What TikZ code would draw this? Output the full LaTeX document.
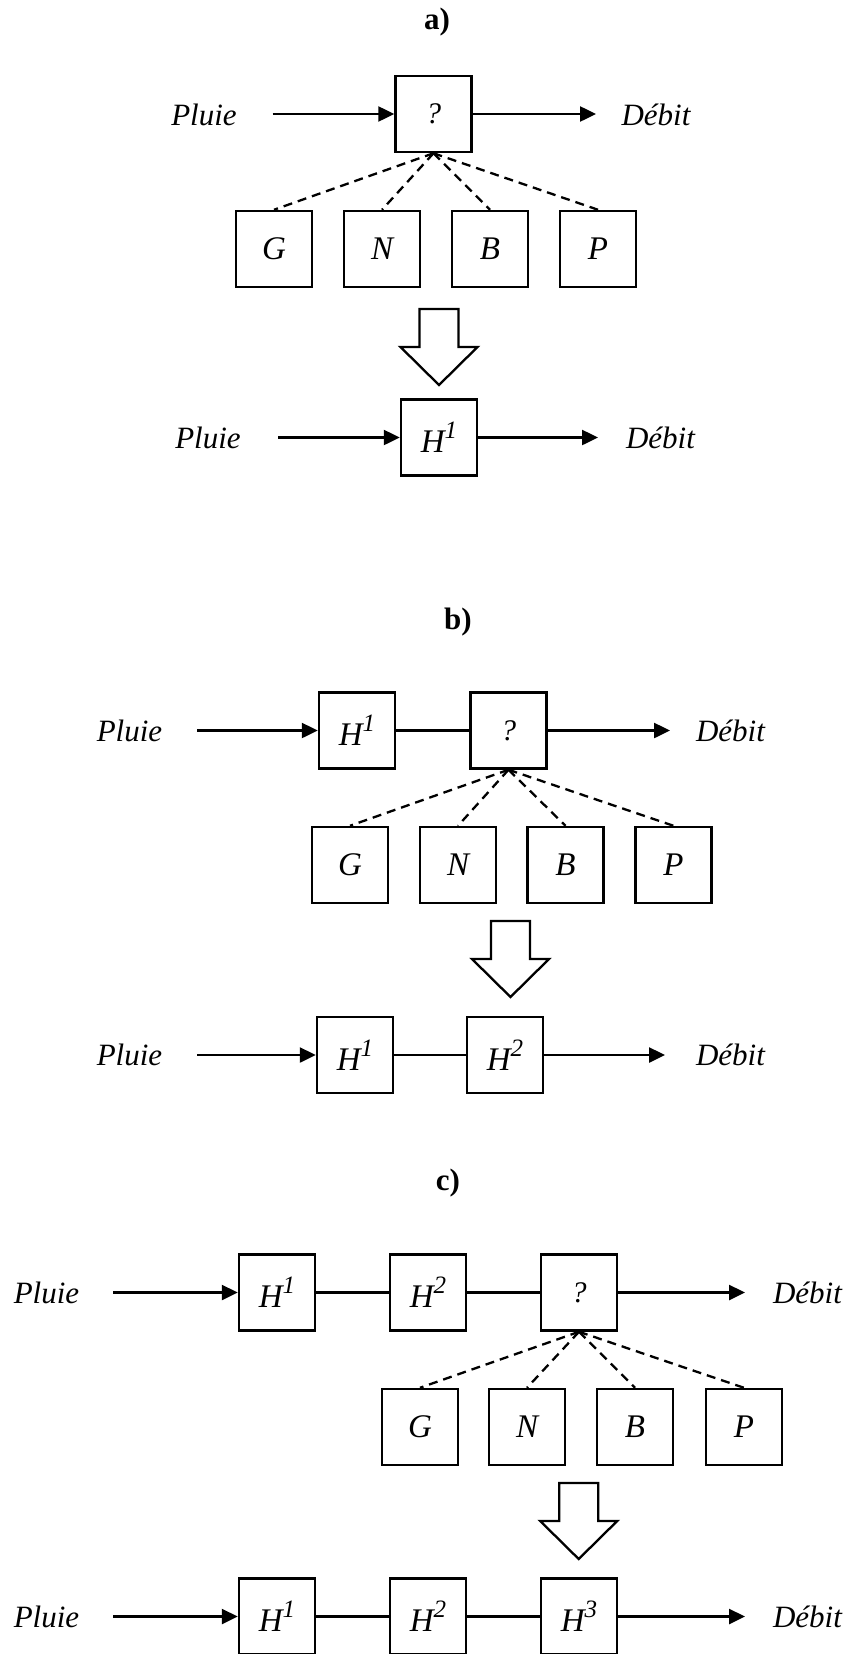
\documentclass[tikz,border=0pt]{standalone}
\usepackage{fontspec}
\setmainfont{Liberation Serif}
\usetikzlibrary{arrows.meta}
\newcommand\Hsup[1]{H\raisebox{7pt}{\fontsize{12.5}{12.5}\selectfont #1}}
\tikzset{
  box/.style={draw, line width=1.25pt, minimum width=38pt, minimum height=38pt, inner sep=0pt, font=\fontsize{16.5}{16.5}\selectfont\itshape},
  qbox/.style={box, font=\fontsize{15}{15}\selectfont\itshape},
  lbl/.style={font=\fontsize{15.5}{15.5}\selectfont\itshape, inner sep=0pt},
  ttl/.style={font=\fontsize{15.5}{15.5}\selectfont\bfseries, inner sep=0pt},
  arr/.style={line width=1.25pt, -{Triangle[length=8pt,width=7.5pt]}},
  link/.style={line width=1.25pt},
  dsh/.style={line width=1.15pt, dash pattern=on 4.5pt off 3pt},
  pics/bigdown/.style={code={
    \draw[line width=1.15pt, fill=white, line join=miter]
      (-19.5,0) -- (19.5,0) -- (19.5,38) -- (38.5,38) -- (0,76) -- (-38.5,38) -- (-19.5,38) -- cycle;}}
}
\begin{document}
\begin{tikzpicture}[x=0.5pt,y=-0.5pt]
\useasboundingbox (0,0) rectangle (848,1654);
% ---------------- a)
\node[ttl] (at) at (437,22) {a)};
\node[lbl] (ap1) at (204,115) {Pluie};
\node[qbox] (aq) at (433.5,114) {?};
\node[lbl] (ad1) at (656,115) {Débit};
\coordinate (ain1) at (272.5,114);
\coordinate (aout1) at (596,114);
\draw[arr] (ain1) -- (aq.west);
\draw[arr] (aq.east) -- (aout1);
\node[box] (aG) at (274,249) {G};
\node[box] (aN) at (382,249) {N};
\node[box] (aB) at (490,249) {B};
\node[box] (aP) at (598,249) {P};
\foreach \n in {aG,aN,aB,aP} \draw[dsh] (aq.south) -- (\n.north);
\pic at (439,309) {bigdown};
\node[lbl] (ap2) at (208,438) {Pluie};
\node[box] (aH) at (439,437.5) {\Hsup{1}};
\node[lbl] (ad2) at (660.5,438) {Débit};
\coordinate (ain2) at (278,437.5);
\coordinate (aout2) at (598,437.5);
\draw[arr] (ain2) -- (aH.west);
\draw[arr] (aH.east) -- (aout2);
% ---------------- b)
\node[ttl] (bt) at (458,622) {b)};
\node[lbl] (bp1) at (129.5,731) {Pluie};
\node[box] (bH1) at (357,730.5) {\Hsup{1}};
\node[qbox] (bq) at (508.5,730.5) {?};
\node[lbl] (bd1) at (730.5,731) {Débit};
\coordinate (bin1) at (197,730.5);
\coordinate (bout1) at (670,730.5);
\draw[arr] (bin1) -- (bH1.west);
\draw[link] (bH1.east) -- (bq.west);
\draw[arr] (bq.east) -- (bout1);
\node[box] (bG) at (350,865) {G};
\node[box] (bN) at (458,865) {N};
\node[box] (bB) at (565.5,865) {B};
\node[box] (bP) at (673.5,865) {P};
\foreach \n in {bG,bN,bB,bP} \draw[dsh] (bq.south) -- (\n.north);
\pic at (510.5,921) {bigdown};
\node[lbl] (bp2) at (129.5,1055) {Pluie};
\node[box] (bH1b) at (355,1055) {\Hsup{1}};
\node[box] (bH2b) at (505,1055) {\Hsup{2}};
\node[lbl] (bd2) at (730.5,1055) {Débit};
\coordinate (bin2) at (197,1055);
\coordinate (bout2) at (665,1055);
\draw[arr] (bin2) -- (bH1b.west);
\draw[link] (bH1b.east) -- (bH2b.west);
\draw[arr] (bH2b.east) -- (bout2);
% ---------------- c)
\node[ttl] (ct) at (448,1183) {c)};
\node[lbl] (cp1) at (46.5,1293) {Pluie};
\node[box] (cH1) at (277,1292.5) {\Hsup{1}};
\node[box] (cH2) at (428,1292.5) {\Hsup{2}};
\node[qbox] (cq) at (579,1292.5) {?};
\node[lbl] (cd1) at (807.5,1293) {Débit};
\coordinate (cin1) at (113,1292.5);
\coordinate (cout1) at (745,1292.5);
\draw[arr] (cin1) -- (cH1.west);
\draw[link] (cH1.east) -- (cH2.west);
\draw[link] (cH2.east) -- (cq.west);
\draw[arr] (cq.east) -- (cout1);
\node[box] (cG) at (420,1427) {G};
\node[box] (cN) at (527,1427) {N};
\node[box] (cB) at (635,1427) {B};
\node[box] (cP) at (744,1427) {P};
\foreach \n in {cG,cN,cB,cP} \draw[dsh] (cq.south) -- (\n.north);
\pic at (578.7,1483) {bigdown};
\node[lbl] (cp2) at (46.5,1616.5) {Pluie};
\node[box] (cH1b) at (277,1616.5) {\Hsup{1}};
\node[box] (cH2b) at (428,1616.5) {\Hsup{2}};
\node[box] (cH3b) at (579,1616.5) {\Hsup{3}};
\node[lbl] (cd2) at (807.5,1616.5) {Débit};
\coordinate (cin2) at (113,1616.5);
\coordinate (cout2) at (745,1616.5);
\draw[arr] (cin2) -- (cH1b.west);
\draw[link] (cH1b.east) -- (cH2b.west);
\draw[link] (cH2b.east) -- (cH3b.west);
\draw[arr] (cH3b.east) -- (cout2);
\end{tikzpicture}
\end{document}
